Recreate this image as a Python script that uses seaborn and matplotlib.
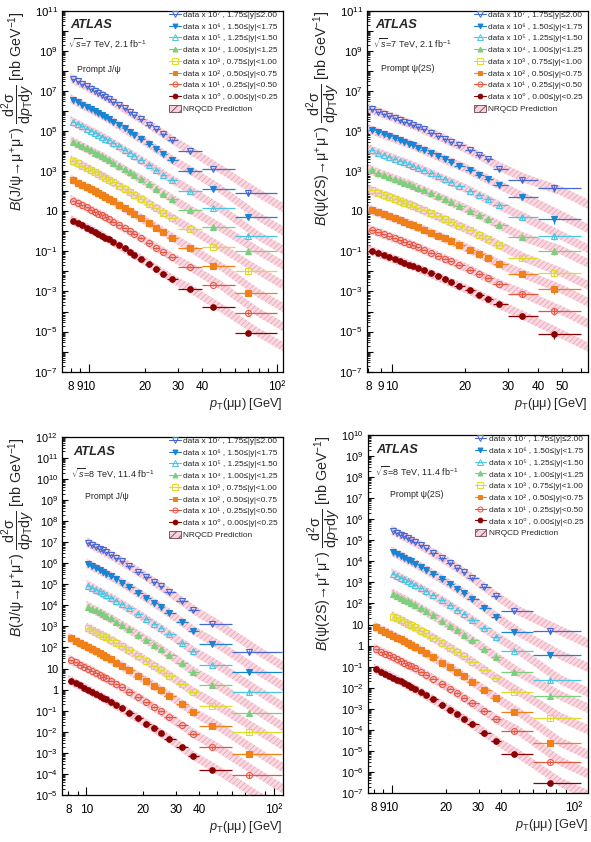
import numpy as np
import matplotlib.pyplot as plt
from matplotlib.lines import Line2D
from matplotlib.patches import Patch
from matplotlib.ticker import FixedLocator, FixedFormatter, LogLocator, NullFormatter
import seaborn as sns

sns.set_theme(style="ticks")
plt.rcParams['font.family'] = ['Liberation Sans', 'DejaVu Sans']
plt.rcParams.update({
    'mathtext.fontset': 'custom',
    'mathtext.rm': 'Liberation Sans',
    'mathtext.it': 'Liberation Sans:italic',
    'mathtext.bf': 'Liberation Sans:bold',
    'axes.edgecolor': 'black',
    'axes.linewidth': 0.9,
    'xtick.color': 'black',
    'ytick.color': 'black',
    'hatch.linewidth': 0.6,
})

nan = np.nan

# rapidity slices, |y| low edge first
rap_lo = ['0.00', '0.25', '0.50', '0.75', '1.00', '1.25', '1.50', '1.75']
rap_hi = ['0.25', '0.50', '0.75', '1.00', '1.25', '1.50', '1.75', '2.00']
scale_exp = [0, 1, 2, 3, 4, 5, 6, 7]

# ---------------- J/psi, 7 TeV ----------------
jpsi7_edges = [8, 8.5, 9, 9.5, 10, 10.5, 11, 11.5, 12, 12.5, 13, 14, 15, 16, 17, 18,
               20, 22, 24, 26, 30, 40, 60, 100]
jpsi7_pt = [8.25, 8.75, 9.25, 9.75, 10.25, 10.75, 11.25, 11.75, 12.25, 12.75, 13.5,
            14.5, 15.5, 16.5, 17.5, 18.9, 20.9, 22.9, 24.9, 27.7, 34.6, 46, 70]
jpsi7_relerr = [0.06, 0.06, 0.06, 0.06, 0.06, 0.06, 0.06, 0.06, 0.06, 0.06, 0.06, 0.06,
                0.06, 0.07, 0.07, 0.07, 0.08, 0.08, 0.09, 0.10, 0.12, 0.15, 0.25]
jpsi7_xs = [
    [3.4, 2.6, 2.0, 1.5, 1.2, 0.95, 0.76, 0.61, 0.49, 0.40, 0.29, 0.20, 0.14, 0.098,
     0.069, 0.044, 0.024, 0.013, 0.0077, 0.0041, 0.0013, 0.00016, 8.9e-6],
    [3.4, 2.6, 2.0, 1.6, 1.2, 0.96, 0.77, 0.62, 0.50, 0.41, 0.30, 0.21, 0.15, 0.10,
     0.074, 0.047, 0.026, 0.015, 0.0089, 0.0050, 0.0016, 0.00021, 8.9e-6],
    [3.6, 2.7, 2.1, 1.6, 1.3, 1.0, 0.80, 0.64, 0.52, 0.42, 0.31, 0.21, 0.15, 0.10,
     0.074, 0.047, 0.026, 0.015, 0.0088, 0.0049, 0.0014, 0.00019, 8.1e-6],
    [3.2, 2.5, 1.9, 1.5, 1.15, 0.91, 0.73, 0.59, 0.47, 0.38, 0.28, 0.19, 0.135, 0.094,
     0.067, 0.043, 0.024, 0.014, 0.0082, 0.0045, 0.0013, 0.00017, 1.1e-5],
    [2.9, 2.3, 1.75, 1.35, 1.07, 0.85, 0.68, 0.55, 0.44, 0.36, 0.265, 0.18, 0.128, 0.089,
     0.063, 0.040, 0.022, 0.013, 0.0075, 0.0040, 0.00115, 0.00016, 1.05e-5],
    [2.9, 2.25, 1.7, 1.3, 1.03, 0.82, 0.65, 0.52, 0.42, 0.34, 0.25, 0.17, 0.12, 0.083,
     0.059, 0.037, 0.020, 0.0115, 0.0068, 0.0036, 0.00107, 0.00014, 6.0e-6],
    [3.6, 2.75, 2.1, 1.6, 1.25, 0.98, 0.78, 0.62, 0.49, 0.40, 0.29, 0.19, 0.135, 0.093,
     0.065, 0.040, 0.022, 0.0125, 0.0072, 0.0036, 0.00105, 0.00013, 5.4e-6],
    [3.9, 2.95, 2.2, 1.7, 1.3, 1.02, 0.80, 0.64, 0.50, 0.40, 0.29, 0.19, 0.134, 0.092,
     0.064, 0.039, 0.021, 0.012, 0.0070, 0.0035, 0.0010, 0.00013, 7.9e-6],
]
jpsi7_nrqcd_pt = [8, 12, 20, 28, 35, 50, 80, 120]
jpsi7_nrqcd = [
    [3.9, 0.55, 0.031, 0.0041, 0.0013, 1.6e-4, 8.9e-6, 1.0e-6],
    [3.9, 0.56, 0.034, 0.0050, 0.0016, 2.1e-4, 8.9e-6, 1.0e-6],
    [4.1, 0.58, 0.034, 0.0049, 0.0014, 1.9e-4, 8.1e-6, 9.0e-7],
    [3.7, 0.53, 0.031, 0.0045, 0.0013, 1.7e-4, 1.1e-5, 1.2e-6],
    [3.3, 0.49, 0.029, 0.0040, 0.00115, 1.6e-4, 1.05e-5, 1.2e-6],
    [3.3, 0.47, 0.026, 0.0036, 0.00107, 1.4e-4, 6.0e-6, 6.7e-7],
    [4.1, 0.55, 0.029, 0.0036, 0.00105, 1.3e-4, 5.4e-6, 6.0e-7],
    [4.4, 0.56, 0.028, 0.0035, 0.0010, 1.3e-4, 7.9e-6, 8.8e-7],
]

# ---------------- psi(2S), 7 TeV ----------------
psi7_edges = [8, 8.5, 9, 9.5, 10, 10.5, 11, 11.5, 12, 12.5, 13, 14, 15, 16, 17, 18,
              20, 22, 24, 26, 30, 40, 60]
psi7_pt = [8.25, 8.75, 9.25, 9.75, 10.25, 10.75, 11.25, 11.75, 12.25, 12.75, 13.5,
           14.5, 15.5, 16.5, 17.5, 18.9, 20.9, 22.9, 24.9, 27.6, 34.2, 46.5]
psi7_relerr = [0.07, 0.07, 0.07, 0.07, 0.07, 0.07, 0.07, 0.07, 0.07, 0.07, 0.07,
               0.08, 0.08, 0.08, 0.09, 0.09, 0.10, 0.11, 0.12, 0.15, 0.30, 0.40]
psi7_xs = [
    [0.105, 0.083, 0.065, 0.052, 0.042, 0.033, 0.027, 0.022, 0.018, 0.015, 0.0113,
     0.0079, 0.0057, 0.0041, 0.0030, 0.0019, 0.00113, 0.00067, 0.00042, 0.00023, 6.0e-5, 7.4e-6],
    [0.117, 0.091, 0.071, 0.056, 0.045, 0.036, 0.029, 0.024, 0.020, 0.016, 0.0122,
     0.0085, 0.0061, 0.0044, 0.0032, 0.0021, 0.00122, 0.00073, 0.00045, 0.00024, 7.6e-5, 1.1e-5],
    [0.115, 0.090, 0.070, 0.056, 0.045, 0.036, 0.029, 0.024, 0.020, 0.016, 0.0121,
     0.0085, 0.0061, 0.0044, 0.0032, 0.0021, 0.00121, 0.00072, 0.00045, 0.00024, 7.2e-5, 1.3e-5],
    [0.110, 0.085, 0.066, 0.052, 0.042, 0.034, 0.027, 0.022, 0.018, 0.015, 0.0113,
     0.0079, 0.0056, 0.0040, 0.0029, 0.0019, 0.00110, 0.00065, 0.00040, 0.00021, 4.9e-5, 8.7e-6],
    [0.108, 0.084, 0.066, 0.052, 0.042, 0.033, 0.027, 0.022, 0.018, 0.015, 0.0112,
     0.0078, 0.0056, 0.0040, 0.0029, 0.0019, 0.00109, 0.00064, 0.00040, 0.00021, 5.0e-5, 1.1e-5],
    [0.110, 0.085, 0.066, 0.052, 0.042, 0.033, 0.027, 0.022, 0.018, 0.015, 0.0112,
     0.0078, 0.0055, 0.0040, 0.0029, 0.0019, 0.00108, 0.00063, 0.00039, 0.00020, 5.0e-5, 5.9e-6],
    [0.112, 0.087, 0.068, 0.054, 0.043, 0.034, 0.028, 0.023, 0.019, 0.015, 0.0115,
     0.0080, 0.0057, 0.0041, 0.0030, 0.0019, 0.00110, 0.00065, 0.00040, 0.00021, 5.0e-5, 4.0e-6],
    [0.120, 0.093, 0.072, 0.057, 0.046, 0.036, 0.029, 0.024, 0.020, 0.016, 0.0120,
     0.0083, 0.0059, 0.0042, 0.0030, 0.0019, 0.00110, 0.00064, 0.00039, 0.000125, 3.6e-5, 1.5e-5],
]
psi7_nrqcd_pt = [8, 12, 20, 28, 35, 50, 70]
psi7_nrqcd = [
    [0.120, 0.020, 0.0014, 0.00021, 6.0e-5, 7.4e-6, 1.0e-6],
    [0.134, 0.022, 0.0016, 0.00022, 7.6e-5, 1.1e-5, 1.5e-6],
    [0.130, 0.022, 0.0016, 0.00022, 7.2e-5, 1.3e-5, 1.7e-6],
    [0.125, 0.020, 0.0014, 0.00019, 4.9e-5, 8.7e-6, 1.2e-6],
    [0.123, 0.020, 0.0014, 0.00019, 5.0e-5, 1.1e-5, 1.5e-6],
    [0.125, 0.020, 0.0014, 0.00018, 5.0e-5, 5.9e-6, 8.0e-7],
    [0.128, 0.021, 0.0014, 0.00019, 5.0e-5, 6.0e-6, 8.0e-7],
    [0.137, 0.022, 0.0014, 0.00016, 4.5e-5, 1.0e-5, 1.3e-6],
]

# ---------------- 8 TeV binning (J/psi and psi(2S)) ----------------
tev8_edges = [8, 8.5, 9, 9.5, 10, 10.5, 11, 11.5, 12, 12.5, 13, 14, 15, 16, 18, 20,
              22, 24, 26, 30, 35, 40, 60, 110]
tev8_pt = [8.24, 8.74, 9.24, 9.74, 10.24, 10.74, 11.24, 11.74, 12.24, 12.74, 13.45,
           14.45, 15.45, 16.9, 18.9, 20.9, 22.9, 24.9, 27.7, 32.2, 37.2, 47, 74]
tev8_relerr = [0.06, 0.06, 0.06, 0.06, 0.06, 0.06, 0.06, 0.06, 0.06, 0.06, 0.06, 0.06,
               0.06, 0.07, 0.07, 0.08, 0.08, 0.09, 0.09, 0.10, 0.12, 0.15, 0.25]
tev8_nrqcd_pt = [8, 10, 14, 20, 28, 37.5, 50, 85, 120]

# ---------------- J/psi, 8 TeV ----------------
jpsi8_xs = [
    [2.6, 2.0, 1.57, 1.24, 0.98, 0.79, 0.63, 0.51, 0.42, 0.345, 0.26, 0.18, 0.128, 0.079,
     0.043, 0.0245, 0.0144, 0.0088, 0.0046, 0.0018, 0.00070, 0.000155, 7.6e-6],
    [2.5, 1.95, 1.53, 1.21, 0.96, 0.77, 0.62, 0.50, 0.41, 0.34, 0.26, 0.18, 0.128, 0.080,
     0.044, 0.025, 0.0149, 0.0092, 0.0049, 0.0020, 0.00080, 0.00018, 8.9e-6],
    [2.7, 2.1, 1.64, 1.29, 1.03, 0.82, 0.66, 0.54, 0.44, 0.36, 0.275, 0.19, 0.135, 0.084,
     0.046, 0.026, 0.0155, 0.0095, 0.0051, 0.0021, 0.00083, 0.000195, 8.9e-6],
    [nan, nan, nan, nan, 0.81, 0.66, 0.54, 0.44, 0.36, 0.30, 0.23, 0.16, 0.115, 0.072,
     0.040, 0.023, 0.0137, 0.0085, 0.0046, 0.0019, 0.00076, 0.000175, 1.0e-5],
    [nan, nan, nan, nan, 0.87, 0.70, 0.57, 0.46, 0.38, 0.31, 0.24, 0.166, 0.118, 0.074,
     0.040, 0.023, 0.0137, 0.0084, 0.0045, 0.0018, 0.00072, 0.000165, 8.1e-6],
    [nan, nan, nan, nan, 0.86, 0.69, 0.56, 0.455, 0.37, 0.305, 0.233, 0.162, 0.115, 0.071,
     0.039, 0.022, 0.0130, 0.0080, 0.0042, 0.0017, 0.00066, 0.00015, 7.4e-6],
    [nan, nan, nan, nan, 0.91, 0.73, 0.59, 0.48, 0.39, 0.32, 0.244, 0.169, 0.119, 0.074,
     0.040, 0.0225, 0.0132, 0.0081, 0.0042, 0.0016, 0.00063, 0.000145, 6.6e-6],
    [nan, nan, nan, nan, 0.93, 0.74, 0.60, 0.49, 0.40, 0.325, 0.247, 0.170, 0.120, 0.074,
     0.040, 0.0222, 0.0130, 0.0079, 0.0041, 0.0016, 0.00060, 0.00013, 5.9e-6],
]
jpsi8_nrqcd = [
    [2.9, 1.08, 0.213, 0.031, 0.0044, 0.00070, 1.55e-4, 7.6e-6, 1.15e-6],
    [2.8, 1.06, 0.21, 0.032, 0.0047, 0.00080, 1.8e-4, 8.9e-6, 1.35e-6],
    [3.0, 1.13, 0.22, 0.033, 0.0049, 0.00083, 1.95e-4, 8.9e-6, 1.35e-6],
    [nan, 0.89, 0.19, 0.029, 0.0044, 0.00076, 1.75e-4, 1.0e-5, 1.5e-6],
    [nan, 0.96, 0.195, 0.029, 0.0043, 0.00072, 1.65e-4, 8.1e-6, 1.2e-6],
    [nan, 0.95, 0.19, 0.028, 0.0040, 0.00066, 1.5e-4, 7.4e-6, 1.1e-6],
    [nan, 1.0, 0.20, 0.029, 0.0040, 0.00063, 1.45e-4, 6.6e-6, 1.0e-6],
    [nan, 1.03, 0.20, 0.029, 0.0039, 0.00060, 1.3e-4, 5.9e-6, 9.0e-7],
]

# ---------------- psi(2S), 8 TeV ----------------
psi8_xs = [
    [0.074, 0.058, 0.046, 0.037, 0.030, 0.0243, 0.0198, 0.0163, 0.0134, 0.0111, 0.0086,
     0.0061, 0.0044, 0.0028, 0.00156, 0.00091, 0.00055, 0.00034, 0.000183, 7.4e-5, 3.0e-5, 6.9e-6, 3.1e-7],
    [0.066, 0.052, 0.042, 0.034, 0.0275, 0.0225, 0.0184, 0.0152, 0.0126, 0.0105, 0.0082,
     0.0058, 0.0042, 0.0027, 0.00153, 0.00090, 0.00055, 0.00034, 0.000185, 7.6e-5, 3.2e-5, 8.7e-6, 3.1e-7],
    [0.073, 0.057, 0.045, 0.036, 0.0295, 0.024, 0.0196, 0.0161, 0.0133, 0.0110, 0.0086,
     0.0061, 0.0044, 0.0028, 0.00157, 0.00092, 0.00056, 0.00035, 0.00019, 7.8e-5, 3.4e-5, 6.8e-6, 2.5e-7],
    [nan, nan, nan, nan, 0.024, 0.0197, 0.0162, 0.0134, 0.0111, 0.0093, 0.0073,
     0.0052, 0.0038, 0.0024, 0.00137, 0.00081, 0.00050, 0.00031, 0.000170, 7.0e-5, 2.9e-5, 6.5e-6, 3.8e-7],
    [nan, nan, nan, nan, 0.028, 0.0228, 0.0186, 0.0153, 0.0126, 0.0105, 0.0082,
     0.0058, 0.0042, 0.0027, 0.00150, 0.00088, 0.00053, 0.00033, 0.000178, 7.2e-5, 2.9e-5, 5.4e-6, 4.1e-7],
    [nan, nan, nan, nan, 0.025, 0.0204, 0.0167, 0.0138, 0.0114, 0.0095, 0.0074,
     0.0053, 0.0038, 0.0025, 0.00139, 0.00082, 0.00050, 0.00031, 0.000168, 6.8e-5, 2.7e-5, 5.7e-6, 2.3e-7],
    [nan, nan, nan, nan, 0.027, 0.022, 0.018, 0.0148, 0.0122, 0.0101, 0.0079,
     0.0056, 0.0040, 0.0026, 0.00145, 0.00084, 0.00051, 0.00031, 0.000165, 6.4e-5, 2.4e-5, 4.3e-6, 3.5e-7],
    [nan, nan, nan, nan, 0.028, 0.0228, 0.0186, 0.0153, 0.0126, 0.0104, 0.0081,
     0.0057, 0.0041, 0.0026, 0.00146, 0.00084, 0.00050, 0.00030, 0.000160, 6.0e-5, 2.3e-5, 4.4e-6, 4.9e-7],
]
psi8_nrqcd = [
    [0.084, 0.033, 0.0071, 0.00115, 0.000175, 3.0e-5, 6.9e-6, 3.1e-7, 8.0e-8],
    [0.075, 0.030, 0.0068, 0.00113, 0.000175, 3.2e-5, 8.7e-6, 3.1e-7, 8.0e-8],
    [0.083, 0.0325, 0.0071, 0.00117, 0.00018, 3.4e-5, 6.8e-6, 2.5e-7, 6.5e-8],
    [nan, 0.0265, 0.0060, 0.00101, 0.000162, 2.9e-5, 6.5e-6, 3.8e-7, 1.0e-7],
    [nan, 0.031, 0.0068, 0.00111, 0.00017, 2.9e-5, 5.4e-6, 4.1e-7, 1.05e-7],
    [nan, 0.0277, 0.0061, 0.00104, 0.00016, 2.7e-5, 5.7e-6, 2.3e-7, 6.0e-8],
    [nan, 0.030, 0.0065, 0.00106, 0.000158, 2.4e-5, 4.3e-6, 3.5e-7, 9.0e-8],
    [nan, 0.031, 0.0066, 0.00107, 0.000153, 2.3e-5, 4.4e-6, 4.9e-7, 1.25e-7],
]
nrqcd_halfwidth = 1.7   # band drawn as central x/÷ this factor

# ---------------- styling ----------------
colors = ['#8b0000', '#e8553f', '#f08018', '#dcdc2c', '#7ccf7c', '#48c6e4', '#1a84d4', '#4468d6']
markers = ['o', 'o', 's', 's', '^', '^', 'v', 'v']
filled = [True, False, True, False, True, False, True, False]
msizes = [4.0, 4.3, 3.8, 4.4, 4.2, 4.8, 4.2, 5.0]
band_face = '#f9d9e1'
band_hatch = '#eea2b5'
superscript = '⁰¹²³⁴⁵⁶⁷'

W, H = 591, 842
fig = plt.figure(figsize=(W / 100, H / 100), dpi=100)


def px_rect(x0, y0, x1, y1):
    return [x0 / W, 1 - y1 / H, (x1 - x0) / W, (y1 - y0) / H]


def exp_label(e):
    if e == 0:
        return '1'
    if e == 1:
        return '10'
    return r'$10^{%d}$' % e


panels = [
    dict(rect=px_rect(62, 10.7, 283, 371.7), pt=jpsi7_pt, edges=jpsi7_edges, xs=jpsi7_xs,
         err=jpsi7_relerr, nq_pt=jpsi7_nrqcd_pt, nq=jpsi7_nrqcd, energy='7', lumi='2.1',
         state='J/ψ', xlim=(7.2, 108), ylim=(1e-7, 1e11), ystep=2, ysize=8.2,
         xmajor=[10, 100], xminor=[8, 9, 20, 30, 40, 50, 60, 70, 80, 90],
         xlab=['8', '9', '20', '30', '40'], txt=(0.036, 0.96, 0.91, 0.066, 0.838)),
    dict(rect=px_rect(367, 10.7, 588, 371.7), pt=psi7_pt, edges=psi7_edges, xs=psi7_xs,
         err=psi7_relerr, nq_pt=psi7_nrqcd_pt, nq=psi7_nrqcd, energy='7', lumi='2.1',
         state='ψ(2S)', xlim=(7.9, 64), ylim=(1e-7, 1e11), ystep=2, ysize=8.2,
         xmajor=[10], xminor=[8, 9, 20, 30, 40, 50, 60],
         xlab=['8', '9', '20', '30', '40', '50'], txt=(0.036, 0.96, 0.91, 0.063, 0.84)),
    dict(rect=px_rect(62, 436.7, 283, 795), pt=tev8_pt, edges=tev8_edges, xs=jpsi8_xs,
         err=tev8_relerr, nq_pt=tev8_nrqcd_pt, nq=jpsi8_nrqcd, energy='8', lumi='11.4',
         state='J/ψ', xlim=(7.4, 112), ylim=(1e-5, 1e12), ystep=1, ysize=7.8,
         xmajor=[10, 100], xminor=[8, 9, 20, 30, 40, 50, 60, 70, 80, 90],
         xlab=['8', '', '20', '30', '40'], txt=(0.05, 0.958, 0.898, 0.104, 0.834)),
    dict(rect=px_rect(367.7, 435, 588.3, 793), pt=tev8_pt, edges=tev8_edges, xs=psi8_xs,
         err=tev8_relerr, nq_pt=tev8_nrqcd_pt, nq=psi8_nrqcd, energy='8', lumi='11.4',
         state='ψ(2S)', xlim=(7.4, 120), ylim=(1e-7, 1e10), ystep=1, ysize=7.8,
         xmajor=[10, 100], xminor=[8, 9, 20, 30, 40, 50, 60, 70, 80, 90],
         xlab=['8', '9', '20', '30', '40'], txt=(0.04, 0.958, 0.898, 0.10, 0.834)),
]

for p in panels:
    ax = fig.add_axes(p['rect'])
    ax.set_xscale('log')
    ax.set_yscale('log')
    pt = np.array(p['pt'])
    edges = np.array(p['edges'])
    lo, hi = edges[:-1], edges[1:]
    relerr = np.array(p['err'])

    # NRQCD bands
    for i in range(8):
        c = np.array(p['nq'][i]) * 10.0 ** scale_exp[i]
        ax.fill_between(p['nq_pt'], c / nrqcd_halfwidth, c * nrqcd_halfwidth,
                        facecolor=band_face, edgecolor=band_hatch, hatch='//////',
                        linewidth=0, zorder=1)

    # data points
    for i in range(8):
        v = np.array(p['xs'][i]) * 10.0 ** scale_exp[i]
        ok = ~np.isnan(v)
        ax.errorbar(pt[ok], v[ok], xerr=[pt[ok] - lo[ok], hi[ok] - pt[ok]],
                    yerr=relerr[ok] * v[ok], fmt=markers[i], color=colors[i],
                    mfc=colors[i] if filled[i] else 'none', mec=colors[i],
                    ms=msizes[i], mew=0.8, elinewidth=0.9, capsize=0, zorder=3)

    ax.set_xlim(p['xlim'])
    ax.set_ylim(p['ylim'])

    # x ticks
    ax.xaxis.set_major_locator(FixedLocator(p['xmajor']))
    ax.xaxis.set_major_formatter(FixedFormatter(['10' if t == 10 else '10²' for t in p['xmajor']]))
    ax.xaxis.set_minor_locator(FixedLocator(p['xminor']))
    ax.xaxis.set_minor_formatter(FixedFormatter(p['xlab'] + [''] * (len(p['xminor']) - len(p['xlab']))))
    # y ticks
    e0, e1 = int(round(np.log10(p['ylim'][0]))), int(round(np.log10(p['ylim'][1])))
    ax.yaxis.set_major_locator(FixedLocator([10.0 ** e for e in range(e0, e1 + 1)]))
    ax.yaxis.set_major_formatter(FixedFormatter(
        [exp_label(e) if (k % p['ystep'] == 0) else '' for k, e in enumerate(range(e0, e1 + 1))]))
    ax.yaxis.set_minor_locator(LogLocator(base=10, subs=np.arange(2, 10), numticks=40))
    ax.yaxis.set_minor_formatter(NullFormatter())

    ax.tick_params(axis='x', which='major', direction='in', length=6, width=0.8,
                   pad=6.5, labelsize=8.5)
    ax.tick_params(axis='x', which='minor', direction='in', length=3, width=0.8,
                   pad=6.5, labelsize=8.5)
    ax.tick_params(axis='y', which='major', direction='in', length=4.5, width=0.8,
                   pad=3, labelsize=p['ysize'])
    ax.tick_params(axis='y', which='minor', direction='in', length=2.2, width=0.6)

    ax.set_xlabel(r'$p_{\mathrm{T}}$(μμ) [GeV]', fontsize=9.2, loc='right')
    ax.xaxis.set_label_coords(1.0, -0.068)
    ax.set_ylabel('$B$(' + p['state'] + r'→μ$^{+}$μ$^{-}$) '
                  r'$\dfrac{\mathrm{d}^{2}\mathrm{σ}}{\mathrm{d}p_{\mathrm{T}}\mathrm{d}y}$'
                  r' [nb GeV$^{-1}$]', fontsize=10.3, loc='top')
    ax.yaxis.set_label_coords(-0.112, 1.0)

    tx, ty1, ty2, px, py = p['txt']
    ax.text(tx, ty1, 'ATLAS', transform=ax.transAxes, fontsize=9.3, fontweight='bold',
            fontstyle='italic', ha='left', va='center')
    ax.text(tx - 0.008, ty2, r'$\sqrt{s}$=' + p['energy'] + ' TeV, ' + p['lumi'] + r' fb$^{-1}$',
            transform=ax.transAxes, fontsize=6.5, ha='left', va='center')
    ax.text(px, py, 'Prompt ' + p['state'], transform=ax.transAxes, fontsize=6.3,
            ha='left', va='center')

    handles, labels = [], []
    for i in reversed(range(8)):
        handles.append(Line2D([0], [0], color=colors[i], marker=markers[i],
                              mfc=colors[i] if filled[i] else 'none', mec=colors[i],
                              ms=msizes[i] * 0.85, lw=0.8, mew=0.7))
        rel = '≤' if i == 7 else '<'
        labels.append('data x 10%s , %s≤|y|%s%s' % (superscript[scale_exp[i]], rap_lo[i], rel, rap_hi[i]))
    handles.append(Patch(facecolor='#f6d3dc', edgecolor='#704050', hatch='////', lw=0.6))
    labels.append('NRQCD Prediction')
    ax.legend(handles, labels, loc='upper left', bbox_to_anchor=(0.485, 1.0),
              frameon=False, fontsize=5.95, handlelength=1.4, handleheight=0.9,
              handletextpad=0.3, labelspacing=0.42, borderpad=0, borderaxespad=0)

fig.savefig('out.png', dpi=100)
